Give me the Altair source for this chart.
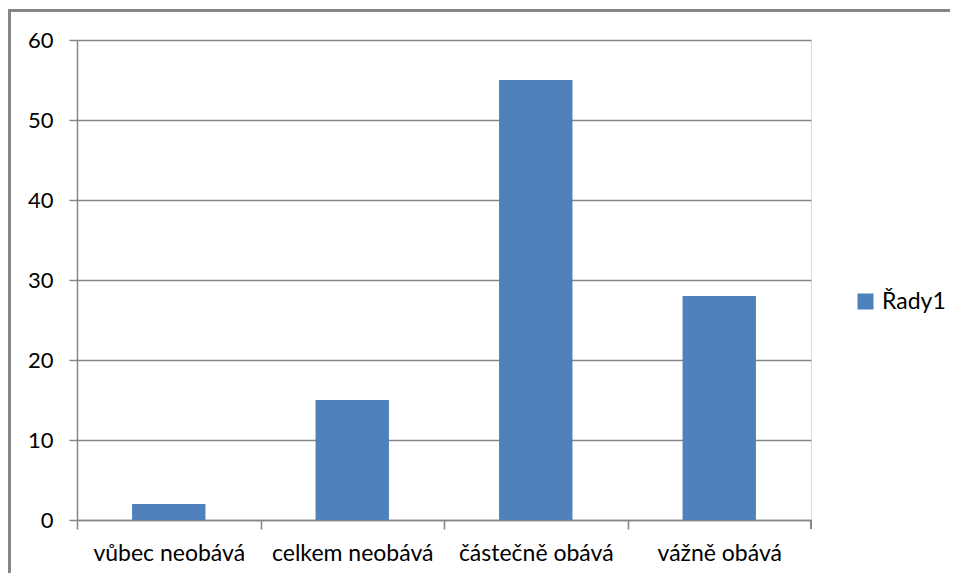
import altair as alt
import pandas as pd

categories = ["vůbec neobává", "celkem neobává", "částečně obává", "vážně obává"]
values = [2, 15, 55, 28]
series = "Řady1"

df = pd.DataFrame({"kategorie": categories, "hodnota": values, "serie": [series] * 4})

W, H = 734, 480
STEP = W / 4
GRAY = "#868686"
FONT = "Lato"

bars = alt.Chart(df).mark_bar(color="#4F81BD").encode(
    x=alt.X("kategorie:N", sort=categories, title=None,
            scale=alt.Scale(paddingInner=0.6, paddingOuter=0.3),
            axis=alt.Axis(labelAngle=0, tickOffset=-STEP / 2, labelOffset=STEP / 2,
                          tickSize=9, tickColor=GRAY, domainColor=GRAY, domainWidth=1.5,
                          tickWidth=1.5, labelPadding=13, labelFontSize=23, labelFont=FONT,
                          labelColor="#000000", grid=False)),
    y=alt.Y("hodnota:Q", title=None,
            scale=alt.Scale(domain=[0, 60]),
            axis=alt.Axis(values=[0, 10, 20, 30, 40, 50, 60], tickSize=8, tickColor=GRAY,
                          domainColor=GRAY, domainWidth=1.5, tickWidth=1.5,
                          gridColor=GRAY, gridWidth=1.5, labelPadding=16,
                          labelFontSize=22, labelFont=FONT, labelColor="#000000")),
    color=alt.Color("serie:N", scale=alt.Scale(range=["#4F81BD"]),
                    legend=alt.Legend(title=None, orient="none", legendX=777, legendY=250,
                                      symbolType="square", symbolSize=256,
                                      symbolStrokeWidth=0, labelFontSize=23,
                                      labelFont=FONT, labelColor="#000000",
                                      padding=0, labelOffset=5)),
)

end_tick = alt.Chart(df).mark_rule(color=GRAY, strokeWidth=1.5).encode(
    x=alt.value(W), y=alt.value(H), y2=alt.value(H + 9)
)

border_v = alt.Chart(df).mark_rule(color=GRAY, strokeWidth=3).encode(
    x=alt.value(-67.5), y=alt.value(-31), y2=alt.value(600)
)
border_h = alt.Chart(df).mark_rule(color=GRAY, strokeWidth=3).encode(
    x=alt.value(-69), x2=alt.value(1000), y=alt.value(-29.5)
)

chart = alt.layer(bars, end_tick, border_v, border_h).properties(
    width=W, height=H,
    autosize=alt.AutoSizeParams(type="none"),
    padding={"left": 69, "top": 32, "right": 139, "bottom": 53},
).configure_view(stroke=None).configure(background="white")

chart.save("out.html", embed_options={"renderer": "svg", "actions": False})
